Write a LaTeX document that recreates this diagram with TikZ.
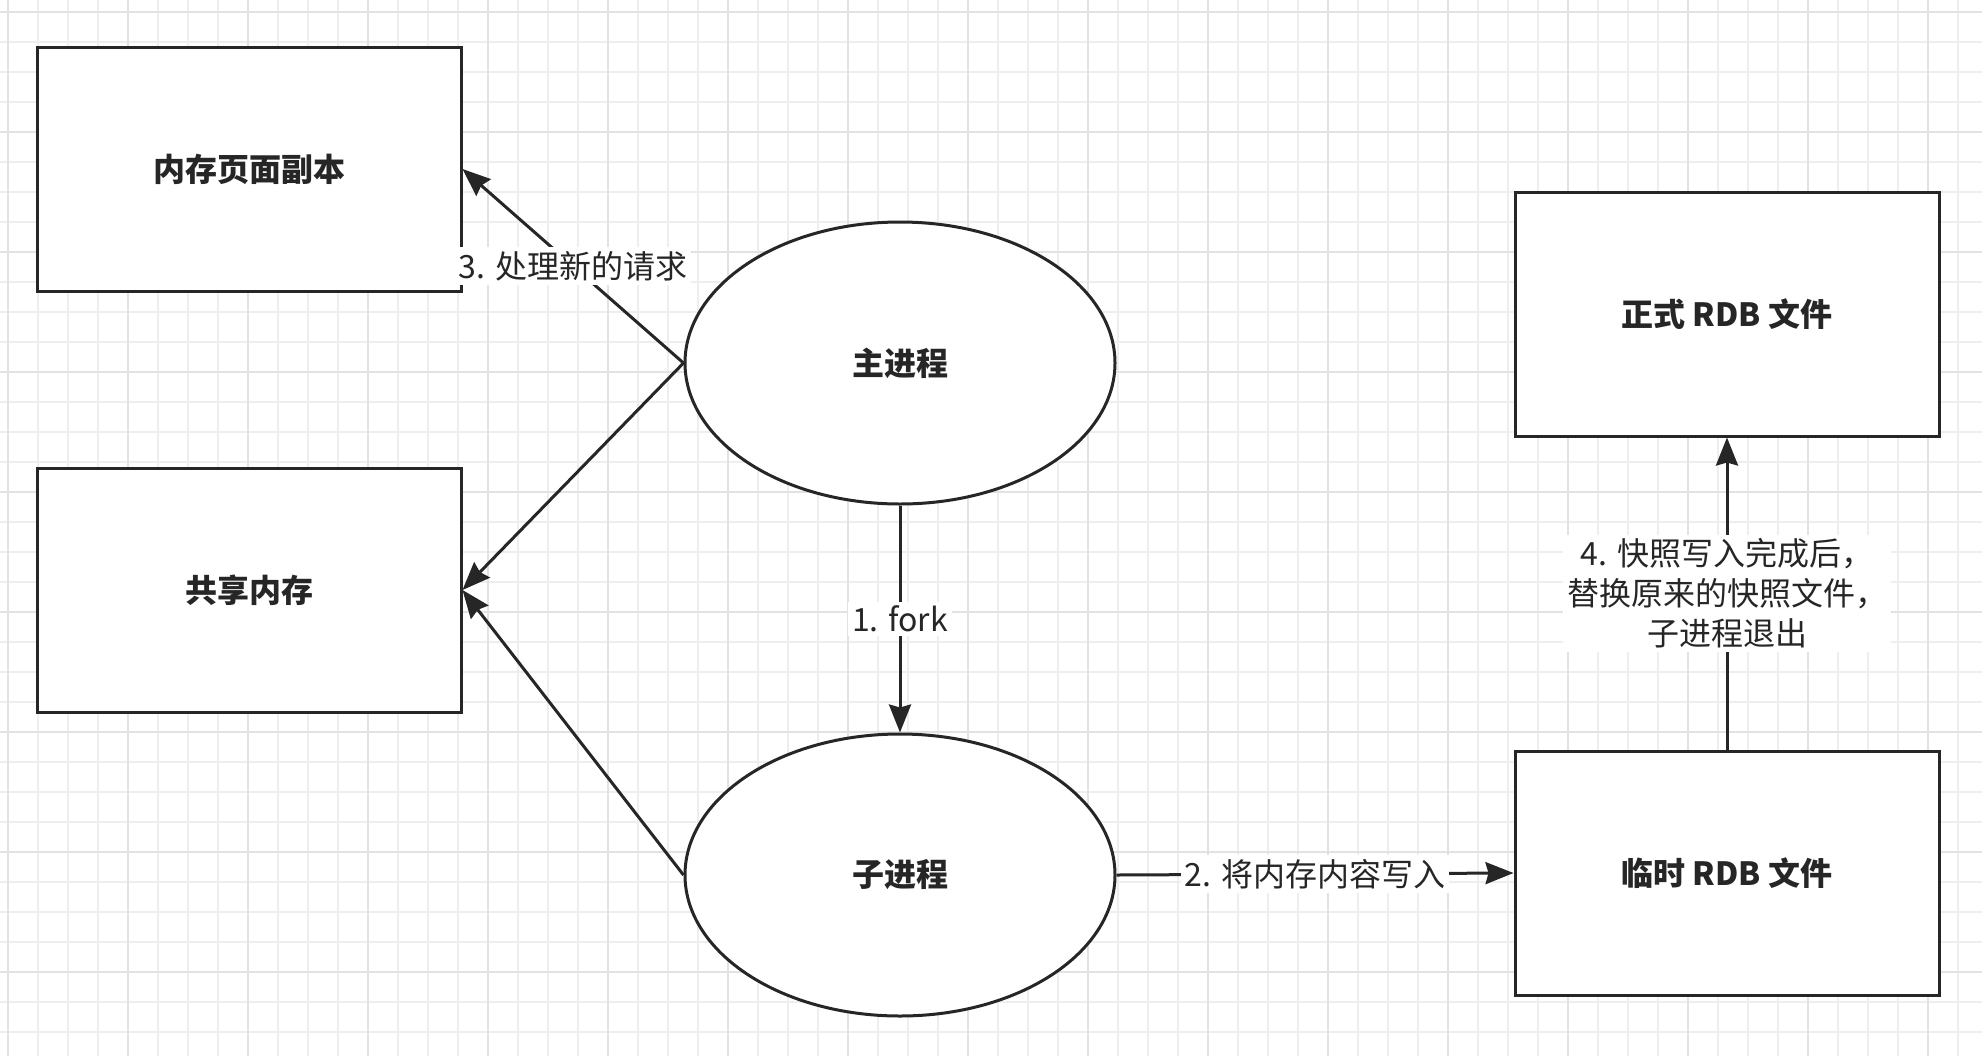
\documentclass[tikz,border=0pt]{standalone}
\usepackage{fontspec}
\setmainfont{Noto Sans CJK SC}
\usepackage{xcolor}
\usetikzlibrary{shapes, arrows.meta, positioning}

\definecolor{inkgray}{RGB}{38,38,38}
\definecolor{gridminor}{RGB}{238,238,238}
\definecolor{gridmajor}{RGB}{226,226,226}

\begin{document}
\begin{tikzpicture}[x=0.5pt, y=-0.5pt,
    box/.style={rectangle, draw=inkgray, line width=1.5pt, fill=white, text=inkgray,
        minimum width=212pt, minimum height=122pt, font=\fontsize{16}{20}\selectfont\bfseries},
    proc/.style={ellipse, draw=inkgray, line width=1.5pt, fill=white, text=inkgray,
        minimum width=215pt, minimum height=141pt, font=\fontsize{16}{20}\selectfont\bfseries},
    link/.style={draw=inkgray, line width=1.5pt, -{Stealth[length=14pt, width=11pt, inset=1.5pt]}},
    tag/.style={fill=white, text=inkgray, inner sep=2pt, align=center,
        font=\fontsize{16}{20}\selectfont}]

    % Background grid
    \useasboundingbox (0,0) rectangle (1982,1056);
    \fill[white] (0,0) rectangle (1982,1056);
    \foreach \gx in {8,38,...,1982}
        \draw[gridminor, line width=0.75pt] (\gx,0) -- (\gx,1056);
    \foreach \gy in {12,42,...,1056}
        \draw[gridminor, line width=0.75pt] (0,\gy) -- (1982,\gy);
    \foreach \gx in {8,128,...,1982}
        \draw[gridmajor, line width=0.9pt] (\gx,0) -- (\gx,1056);
    \foreach \gy in {12,132,...,1056}
        \draw[gridmajor, line width=0.9pt] (0,\gy) -- (1982,\gy);

    % Nodes
    \node (copyBox) [box] at (249,169) {内存页面副本};
    \node (sharedBox) [box, below=87pt of copyBox] {共享内存};
    \node (mainProc) [proc] at (900,363) {主进程};
    \node (childProc) [proc, below=113.5pt of mainProc] {子进程};
    \node (finalRdb) [box] at (1727,314) {正式 RDB 文件};
    \node (tempRdb) [box, below=156pt of finalRdb] {临时 RDB 文件};

    % Connectors
    \draw[link] (mainProc.west) -- (copyBox.east) node[tag, midway] {3. 处理新的请求};
    \draw[link] (mainProc.west) -- (sharedBox.east);
    \draw[link] (childProc.west) -- (sharedBox.east);
    \draw[link] (mainProc.south) -- (childProc.north) node[tag, midway] {1. fork};
    \draw[link] (childProc.east) -- (tempRdb.west) node[tag, midway] {2. 将内存内容写入};
    \draw[link] (tempRdb.north) -- (finalRdb.south) node[tag, midway] {4. 快照写入完成后，\\替换原来的快照文件，\\子进程退出};

\end{tikzpicture}
\end{document}
